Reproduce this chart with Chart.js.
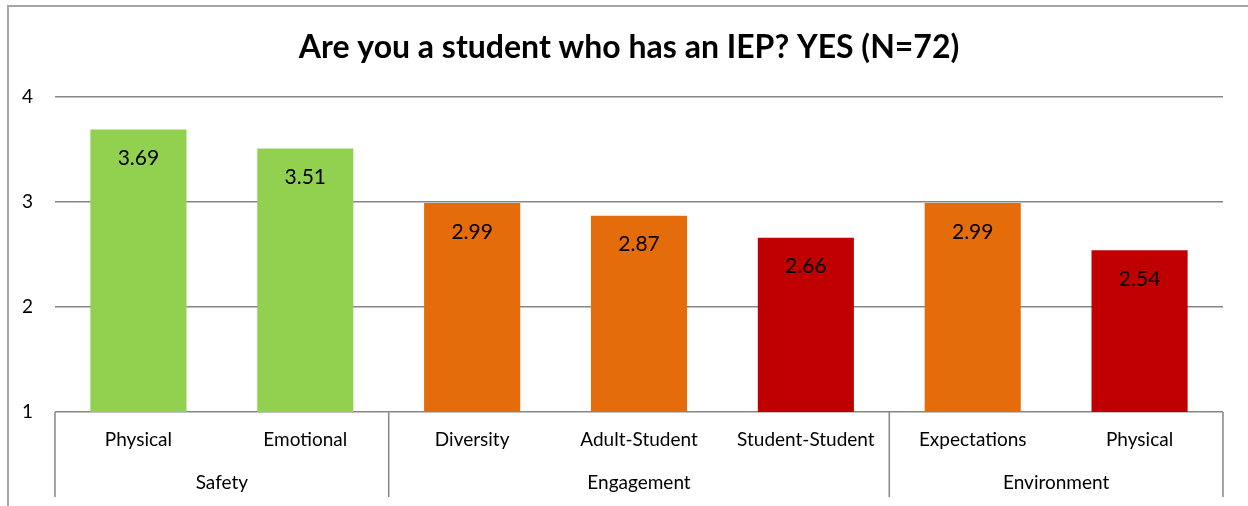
<!DOCTYPE html>
<html>
<head>
<meta charset="utf-8">
<script src="https://cdn.jsdelivr.net/npm/chart.js@4"></script>
<style>
  html, body { margin: 0; padding: 0; background: #fff; }
  #wrap { width: 1248px; height: 506px; position: relative; }
</style>
</head>
<body>
<div id="wrap"><canvas id="grafico"></canvas></div>
<script>
// Datos del grafico
const titulo = "Are you a student who has an IEP? YES (N=72)";
const categorias = ["Physical", "Emotional", "Diversity", "Adult-Student", "Student-Student", "Expectations", "Physical"];
const grupos = ["Safety", "Engagement", "Environment"];
const tamGrupos = [2, 3, 2];
const valores = [3.69, 3.51, 2.99, 2.87, 2.66, 2.99, 2.54];
const ticksY = [1, 2, 3, 4];

const VERDE = "#92D050", NARANJA = "#E46C0A", ROJO = "#C00000";
const colores = [VERDE, VERDE, NARANJA, NARANJA, ROJO, NARANJA, ROJO];
const FUENTE = "Lato, 'Open Sans', sans-serif";

// Marco exterior, titulo, etiquetas de valores y eje de dos niveles
const plugExtras = {
    id: "extras",
    beforeDraw(chart) {
        const ctx = chart.ctx;
        ctx.save();
        ctx.strokeStyle = "#a6a6a6";
        ctx.lineWidth = 2;
        ctx.strokeRect(8, 6, 1300, 600);
        ctx.restore();
    },
    afterDatasetsDraw(chart) {
        const ctx = chart.ctx;
        const meta = chart.getDatasetMeta(0);
        ctx.save();
        ctx.fillStyle = "#000";
        ctx.textAlign = "center";
        ctx.textBaseline = "middle";

        // titulo centrado sobre todo el marco
        ctx.font = "bold 32px " + FUENTE;
        ctx.fillText(titulo, 629, 48);

        ctx.font = "21px " + FUENTE;
        meta.data.forEach((bar, i) => {
            ctx.fillText(valores[i].toFixed(2), bar.x, bar.y + 29);
        });

        // eje x agrupado
        const x = chart.scales.x;
        const area = chart.chartArea;
        const paso = (area.right - area.left) / categorias.length;
        ctx.font = "19px " + FUENTE;
        categorias.forEach((c, i) => {
            ctx.fillText(c, x.getPixelForValue(i), area.bottom + 28);
        });
        ctx.strokeStyle = "#868686";
        ctx.lineWidth = 1.5;
        let idx = 0;
        const lineaV = (px) => {
            ctx.beginPath();
            ctx.moveTo(px, area.bottom);
            ctx.lineTo(px, area.bottom + 85);
            ctx.stroke();
        };
        lineaV(x.getPixelForValue(0) - paso / 2);
        grupos.forEach((g, k) => {
            const ini = x.getPixelForValue(idx) - paso / 2;
            idx += tamGrupos[k];
            const fin = x.getPixelForValue(idx - 1) + paso / 2;
            lineaV(fin);
            ctx.fillText(g, (ini + fin) / 2, area.bottom + 71);
        });
        ctx.restore();
    }
};

new Chart(document.getElementById("grafico"), {
    type: "bar",
    data: {
        labels: categorias,
        datasets: [{
            data: valores,
            backgroundColor: colores,
            borderWidth: 0,
            categoryPercentage: 1,
            barPercentage: 0.576
        }]
    },
    options: {
        responsive: true,
        maintainAspectRatio: false,
        animation: false,
        layout: { padding: { left: 0, right: 25, top: 0, bottom: 94 } },
        plugins: {
            legend: { display: false },
            tooltip: { enabled: false },
            // reserva el espacio; el texto se pinta en el plugin
            title: {
                display: true,
                text: titulo,
                color: "rgba(0,0,0,0)",
                font: { family: FUENTE, size: 32, weight: "bold" },
                padding: { top: 29, bottom: 29.6 }
            }
        },
        scales: {
            x: { display: false },
            y: {
                min: 1,
                max: 4,
                afterFit: (s) => { s.width = 55; },
                afterBuildTicks: (s) => { s.ticks = ticksY.map(v => ({ value: v })); },
                border: { display: false },
                grid: { color: "#868686", lineWidth: 1.5, drawTicks: false },
                ticks: {
                    padding: 22,
                    color: "#000",
                    font: { family: FUENTE, size: 19 }
                }
            }
        }
    },
    plugins: [plugExtras]
});
</script>
</body>
</html>
